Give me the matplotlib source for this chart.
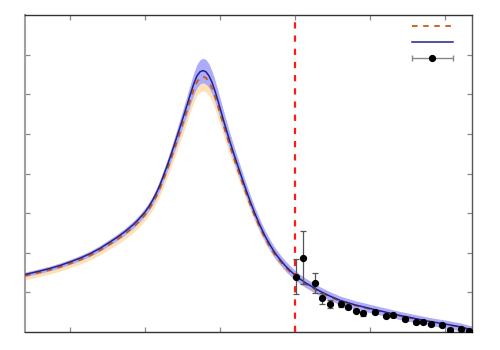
import numpy as np
import matplotlib
matplotlib.use("Agg")
import matplotlib.pyplot as plt
from matplotlib.legend_handler import HandlerErrorbar

plt.rcParams['lines.scale_dashes'] = False

# ---- theory curves ----
x_curve = [0.400, 0.600, 0.733, 0.867, 1.000, 1.133, 1.267, 1.400, 1.533, 1.627, 1.733, 1.840,
           1.920, 2.000, 2.053, 2.107, 2.160, 2.200, 2.240, 2.293, 2.333, 2.373, 2.413, 2.453,
           2.493, 2.533, 2.573, 2.613, 2.653, 2.693, 2.733, 2.773,
           2.813, 2.853, 2.893, 2.933, 2.973, 3.013, 3.053, 3.093, 3.133, 3.200, 3.267, 3.333,
           3.400, 3.467, 3.533, 3.600, 3.667, 3.733, 3.800, 3.867, 3.933, 4.000, 4.067, 4.133,
           4.200, 4.333, 4.467, 4.600, 4.800, 5.000, 5.200, 5.400, 5.600, 5.800, 6.000, 6.200, 6.360]
y_blue = [1.452, 1.540, 1.604, 1.680, 1.768, 1.863, 1.976, 2.111, 2.271, 2.387, 2.535, 2.703,
          2.853, 3.027, 3.171, 3.343, 3.543, 3.717, 3.915, 4.183, 4.397, 4.625, 4.855, 5.088,
          5.324, 5.563, 5.806, 6.048, 6.279, 6.462, 6.566, 6.598,
          6.566, 6.465, 6.301, 6.086, 5.833, 5.568, 5.303, 5.051, 4.798, 4.407, 4.028, 3.662,
          3.308, 2.980, 2.689, 2.424, 2.197, 1.995, 1.831, 1.679, 1.553, 1.439, 1.338, 1.250,
          1.174, 1.030, 0.905, 0.800, 0.685, 0.593, 0.505, 0.417, 0.341, 0.265, 0.202, 0.131, 0.051]
blue_err = [0.055, 0.057, 0.059, 0.061, 0.063, 0.066, 0.069, 0.072, 0.077, 0.080, 0.085, 0.090,
            0.095, 0.100, 0.105, 0.110, 0.120, 0.130, 0.140, 0.150, 0.160, 0.175, 0.190, 0.200,
            0.215, 0.230, 0.245, 0.260, 0.280, 0.295, 0.305, 0.310,
            0.310, 0.300, 0.290, 0.275, 0.260, 0.250, 0.235, 0.225, 0.215, 0.200, 0.185, 0.175,
            0.165, 0.155, 0.147, 0.140, 0.135, 0.130, 0.127, 0.125, 0.123, 0.120, 0.118, 0.116,
            0.114, 0.112, 0.110, 0.108, 0.106, 0.105, 0.103, 0.102, 0.100, 0.100, 0.100, 0.100, 0.100]
y_orange = [1.419, 1.505, 1.567, 1.641, 1.727, 1.820, 1.931, 2.062, 2.219, 2.332, 2.477, 2.641,
            2.787, 2.957, 3.098, 3.266, 3.461, 3.632, 3.825, 4.087, 4.296, 4.519, 4.743, 4.971,
            5.202, 5.435, 5.672, 5.909, 6.135, 6.313, 6.415, 6.446,
            6.415, 6.316, 6.156, 5.946, 5.699, 5.440, 5.181, 4.935, 4.688, 4.306, 3.935, 3.578,
            3.232, 2.911, 2.627, 2.368, 2.146, 1.949, 1.789, 1.640, 1.517, 1.406, 1.307, 1.221,
            1.147, 1.006, 0.884, 0.782, 0.669, 0.579, 0.493, 0.407, 0.333, 0.259, 0.197, 0.128, 0.050]
orange_err = [0.100, 0.100, 0.100, 0.105, 0.105, 0.110, 0.110, 0.115, 0.120, 0.125, 0.130, 0.135,
              0.140, 0.145, 0.150, 0.160, 0.170, 0.180, 0.190, 0.200, 0.210, 0.225, 0.240, 0.250,
              0.265, 0.280, 0.295, 0.310, 0.330, 0.345, 0.355, 0.360,
              0.360, 0.350, 0.340, 0.320, 0.300, 0.280, 0.260, 0.245, 0.230, 0.210, 0.190, 0.175,
              0.160, 0.150, 0.140, 0.130, 0.120, 0.115, 0.110, 0.105, 0.100, 0.100, 0.095, 0.090,
              0.090, 0.085, 0.085, 0.080, 0.080, 0.080, 0.080, 0.080, 0.080, 0.080, 0.080, 0.080, 0.080]

# ---- data points ----
x_data = [4.01, 4.11, 4.26, 4.36, 4.46, 4.61, 4.71, 4.81, 4.91, 5.06, 5.21, 5.31,
          5.46, 5.61, 5.71, 5.81, 5.96, 6.07, 6.21, 6.32]
y_data = [1.40, 1.88, 1.24, 0.85, 0.71, 0.71, 0.64, 0.54, 0.47, 0.50, 0.41, 0.42,
          0.33, 0.25, 0.26, 0.20, 0.18, 0.06, 0.08, 0.03]
y_data_err = [0.45, 0.66, 0.25, 0.14, 0.11, 0.07, 0.05, 0.04, 0.065, 0.04, 0.04, 0.04,
              0.04, 0.04, 0.04, 0.04, 0.04, 0.04, 0.04, 0.04]

threshold = 4.0
x_ticks = [1, 2, 3, 4, 5, 6]
y_ticks = [1, 2, 3, 4, 5, 6, 7]

xc = np.array(x_curve)
yb = np.array(y_blue); eb = np.array(blue_err)
yo = np.array(y_orange); eo = np.array(orange_err)

fig = plt.figure(figsize=(5, 3.5), dpi=100)
ax = fig.add_axes([0.05, 0.0514, 0.894, 0.9057])

ax.fill_between(xc, yo - eo, yo + eo, color='#ffe2b4', lw=0, zorder=1)
ax.fill_between(xc, yb - eb, yb + eb, color='#acacfa', lw=0, zorder=2)
l_or, = ax.plot(xc, yo, color='#cc5a14', lw=1.3, dashes=(4, 4), zorder=3)
l_bl, = ax.plot(xc, yb, color='#22228a', lw=1.1, zorder=4)

ax.axvline(threshold, color='#ff1a1a', lw=1.6, dashes=(4.5, 5), zorder=5)

ax.errorbar(x_data, y_data, yerr=y_data_err, fmt='o', color='black', ms=4.2,
            ecolor='#555555', elinewidth=0.9, capsize=2, capthick=0.9, zorder=6)

proxy = ax.errorbar([np.nan], [np.nan], xerr=[1], fmt='o', color='black', ms=4.2,
                    ecolor='#888888', elinewidth=1.0, capsize=2, capthick=1.0)

ax.set_xlim(0.4, 6.36)
ax.set_ylim(0, 8)
ax.set_xticks(x_ticks)
ax.set_yticks(y_ticks)
ax.tick_params(direction='in', length=3.3, width=0.9, color='#888888',
               top=True, right=True, labelbottom=False, labelleft=False)

for side, col, w in [('left', '#a0a0a0', 1.5), ('top', '#333333', 1.0),
                     ('right', '#555555', 1.0), ('bottom', '#333333', 1.0)]:
    ax.spines[side].set_color(col)
    ax.spines[side].set_linewidth(w)

leg = ax.legend([l_or, l_bl, proxy], ['', '', ''], loc='upper right',
                bbox_to_anchor=(0.979, 1.014), frameon=False, fontsize=10,
                handlelength=2.95, handletextpad=0.0, labelspacing=0.12,
                borderaxespad=0.3,
                handler_map={proxy: HandlerErrorbar(xerr_size=1.47)})

fig.savefig('out.png', dpi=100)
